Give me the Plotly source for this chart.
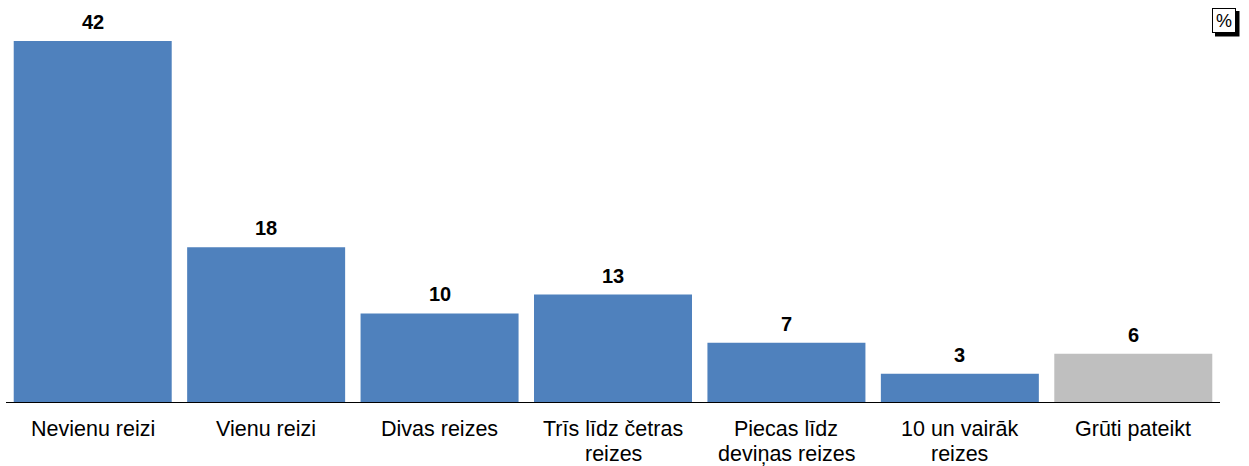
import plotly.graph_objects as go

categories = ["Nevienu reizi", "Vienu reizi", "Divas reizes", "Trīs līdz četras<br>reizes",
              "Piecas līdz<br>deviņas reizes", "10 un vairāk<br>reizes", "Grūti pateikt"]
# bar heights; printed labels are the rounded figures shown
values = [42, 18, 10.3, 12.5, 6.9, 3.3, 5.6]
labels = ["42", "18", "10", "13", "7", "3", "6"]
colors = ["#4F81BD"] * 6 + ["#BFBFBF"]

W, H = 1249, 466
ml, mr, mt, mb = 6, 29, 41, 64
pw, ph = W - ml - mr, H - mt - mb
FONT = "Liberation Sans, Arial"

xs = list(range(len(categories)))
fig = go.Figure(go.Bar(
    x=xs, y=values, marker=dict(color=colors, line=dict(width=0)),
    hoverinfo="skip",
))

# value labels
for x, v, t in zip(xs, values, labels):
    fig.add_annotation(x=x, y=v, xref="x", yref="y", text=f"<b>{t}</b>", showarrow=False,
                       yanchor="bottom", yshift=6,
                       font=dict(family=FONT, size=20, color="#000000"))

# category labels (one text per line, tight line spacing as in the reference)
for x, cat in zip(xs, categories):
    for k, line in enumerate(cat.split("<br>")):
        fig.add_annotation(x=x, y=0, xref="x", yref="y", text=line, showarrow=False,
                           yanchor="top", yshift=-13 - 25 * k,
                           font=dict(family=FONT, size=21.5, color="#000000"))

def px2x(p):
    return (p - ml) / pw

def px2y(p):
    return (H - mb - p) / ph

fig.update_layout(
    width=W, height=H, margin=dict(l=ml, r=mr, t=mt, b=mb),
    plot_bgcolor="white", paper_bgcolor="white", bargap=0.089, showlegend=False,
    font=dict(family=FONT, color="#000000"),
    xaxis=dict(range=[-0.5, 6.5], showticklabels=False, showline=True,
               linecolor="#000000", linewidth=1,
               ticks="", showgrid=False, zeroline=False, automargin=False),
    yaxis=dict(range=[0, 42], visible=False, showgrid=False, zeroline=False, automargin=False),
)

# shadow of % box
fig.add_shape(type="rect", xref="paper", yref="paper",
              x0=px2x(1215), x1=px2x(1239.5), y0=px2y(36.5), y1=px2y(11),
              fillcolor="#000000", line=dict(width=0), layer="above")
fig.add_annotation(text="%", xref="paper", yref="paper", x=px2x(1211.5), y=px2y(8),
                   xanchor="left", yanchor="top", showarrow=False,
                   font=dict(size=18, family=FONT, color="#000000"),
                   bgcolor="white", bordercolor="#000000", borderwidth=1, borderpad=0,
                   width=22, height=23)

fig.write_html("out.html", config={"displayModeBar": False},
               post_script="document.body.style.margin='0';")
